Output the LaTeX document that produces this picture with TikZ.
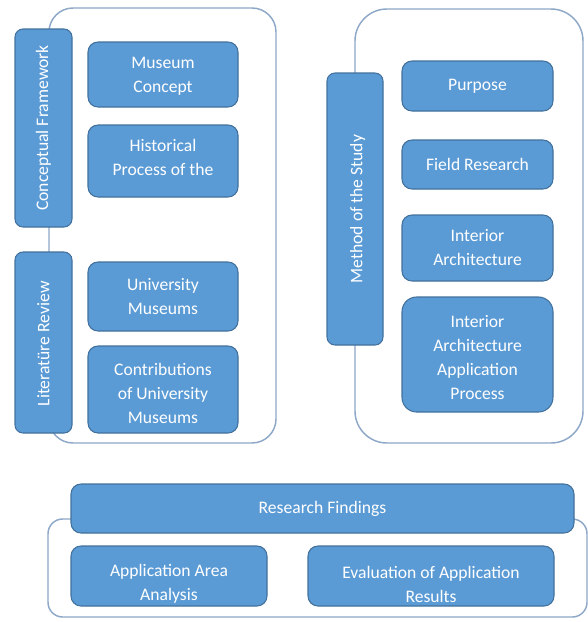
\documentclass[tikz,border=0pt]{standalone}
\usepackage{fontspec}
\setmainfont{Carlito}
\usetikzlibrary{fit}
\definecolor{boxfill}{HTML}{5B9BD5}
\definecolor{boxline}{HTML}{41719C}
\definecolor{panelline}{HTML}{8EA8C8}
\begin{document}
\begin{tikzpicture}[x=0.75pt,y=-0.75pt,
  panel/.style={draw=panelline, line width=1.1pt, fill=white, inner sep=0pt, rounded corners=#1},
  panel/.default=18pt,
  txt/.style={text=white, font=\fontsize{13.2}{18}\selectfont, align=center, inner sep=0pt},
  item/.style={draw=boxline, line width=0.8pt, fill=boxfill, inner sep=0pt, rounded corners=7.5pt},
  bar/.style={item, rounded corners=6pt},
  vtxt/.style={txt, rotate=90},
]
\useasboundingbox (0,0) rectangle (588,622);

% outer frames of the three groups
\node[panel=18pt, fit={(49,8)(276,443)}] (leftgroup) {};
\node[panel=24pt, fit={(355,9)(583,443)}] (rightgroup) {};
\node[panel=11pt, fit={(48,519)(587,617)}] (bottomgroup) {};

% left group: section bars
\node[bar, fit={(15,29)(72,227)},
      label={[vtxt]center:Conceptual Framework}] (concept) {};
\node[bar, fit={(15,252)(72,433)},
      label={[vtxt, xshift=-1pt]center:Literatüre Review}] (litreview) {};

% left group: topics
\node[item, fit={(88,42)(238,107)},
      label={[txt, yshift=-1pt]center:{Museum\\Concept}}] (museum) {};
\node[item, fit={(88,125)(238,197)},
      label={[txt, yshift=3pt]center:{Historical\\Process of the}}] (history) {};
\node[item, fit={(88,262)(238,331)},
      label={[txt]center:{University\\Museums}}] (univ) {};
\node[item, fit={(88,346)(238,433)},
      label={[txt, yshift=-3pt]center:{Contributions\\of University\\Museums}}] (contrib) {};

% right group
\node[bar, fit={(327,73)(383,345)},
      label={[vtxt, yshift=-2pt]center:Method of the Study}] (method) {};
\node[item, fit={(402,61)(553,111)},
      label={[txt]center:Purpose}] (purpose) {};
\node[item, fit={(402,140)(553,189)},
      label={[txt]center:Field Research}] (field) {};
\node[item, fit={(402,215)(553,281)},
      label={[txt]center:{Interior\\Architecture}}] (interior) {};
\node[item, rounded corners=11pt, fit={(402,297)(553,412)},
      label={[txt, yshift=-2pt]center:{Interior\\Architecture\\Application\\Process}}] (process) {};

% bottom group
\node[item, fit={(71,484)(574,533)},
      label={[txt]center:Research Findings}] (findings) {};
\node[item, fit={(71,546)(267,606)},
      label={[txt, yshift=-6pt]center:{Application Area\\Analysis}}] (area) {};
\node[item, fit={(308,546)(554,606)},
      label={[txt, yshift=-6pt]center:{Evaluation of Application\\Results}}] (evaluation) {};
\end{tikzpicture}
\end{document}
